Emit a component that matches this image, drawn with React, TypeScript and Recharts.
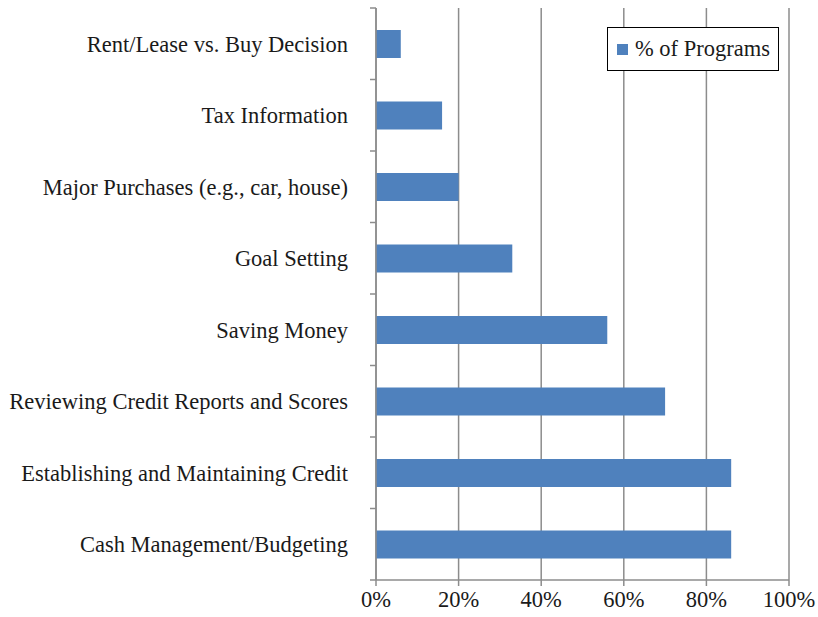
import { BarChart, Bar, XAxis, YAxis, CartesianGrid } from "recharts";

const topics = [
  "Rent/Lease vs. Buy Decision",
  "Tax Information",
  "Major Purchases (e.g., car, house)",
  "Goal Setting",
  "Saving Money",
  "Reviewing Credit Reports and Scores",
  "Establishing and Maintaining Credit",
  "Cash Management/Budgeting",
];
const pctOfPrograms = [6, 16, 20, 33, 56, 70, 86, 86];
const xTicks = [0, 20, 40, 60, 80, 100];
const seriesName = "% of Programs";

const data = topics.map((topic, i) => ({ topic, pct: pctOfPrograms[i] }));

const FONT = '"Liberation Serif", "Times New Roman", serif';
const FONT_SIZE = 22.5;
const AXIS = "#8c8c8c";
const BLUE = "#4F81BD";
const TICK_SIZE = 6;
const TICK_MARGIN = 22;

// category tick: label at band centre, tick marks on band boundaries
function TopicTick(props: any) {
  const { x, y, payload, index, visibleTicksCount } = props;
  const half = payload?.offset ?? 0;
  const axisX = x + TICK_SIZE + TICK_MARGIN;
  const last = index === (visibleTicksCount ?? topics.length) - 1;
  return (
    <g>
      <line x1={axisX - TICK_SIZE} x2={axisX} y1={y - half} y2={y - half} stroke={AXIS} strokeWidth={1.5} />
      {last && (
        <line x1={axisX - TICK_SIZE} x2={axisX} y1={y + half} y2={y + half} stroke={AXIS} strokeWidth={1.5} />
      )}
      <text x={x} y={y} dy="0.35em" textAnchor="end" fill="#1a1a1a" fontSize={FONT_SIZE} fontFamily={FONT}>
        {payload.value}
      </text>
    </g>
  );
}

function LegendBox() {
  return (
    <div
      style={{
        position: "absolute",
        left: 607,
        top: 27,
        border: "1.5px solid #000",
        background: "#fff",
        width: 172,
        height: 44,
        boxSizing: "border-box",
        display: "flex",
        alignItems: "center",
        paddingLeft: 9,
        fontFamily: FONT,
        fontSize: FONT_SIZE,
        color: "#1a1a1a",
        whiteSpace: "nowrap",
      }}
    >
      <span style={{ width: 11, height: 11, background: BLUE, display: "inline-block", marginRight: 7 }} />
      {seriesName}
    </div>
  );
}

export default function App() {
  return (
    <div style={{ position: "absolute", left: 0, top: 0, width: 818, height: 617, background: "#fff" }}>
      <BarChart
        width={818}
        height={617}
        data={data}
        layout="vertical"
        margin={{ top: 8, right: 29, left: 0, bottom: 5 }}
      >
        <CartesianGrid horizontal={false} stroke={AXIS} strokeWidth={1.5} />
        <XAxis
          type="number"
          domain={[0, 100]}
          ticks={xTicks}
          tickFormatter={(v) => `${v}%`}
          stroke={AXIS}
          strokeWidth={1.5}
          tickSize={6}
          tickMargin={5}
          height={32}
          tick={{ fill: "#1a1a1a", fontSize: FONT_SIZE, fontFamily: FONT }}
        />
        <YAxis
          type="category"
          dataKey="topic"
          width={376}
          stroke={AXIS}
          strokeWidth={1.5}
          tickLine={false}
          tickSize={TICK_SIZE}
          tickMargin={TICK_MARGIN}
          interval={0}
          tick={<TopicTick />}
        />
        <Bar dataKey="pct" name={seriesName} fill={BLUE} barSize={28} isAnimationActive={false} />
      </BarChart>
      <LegendBox />
    </div>
  );
}
